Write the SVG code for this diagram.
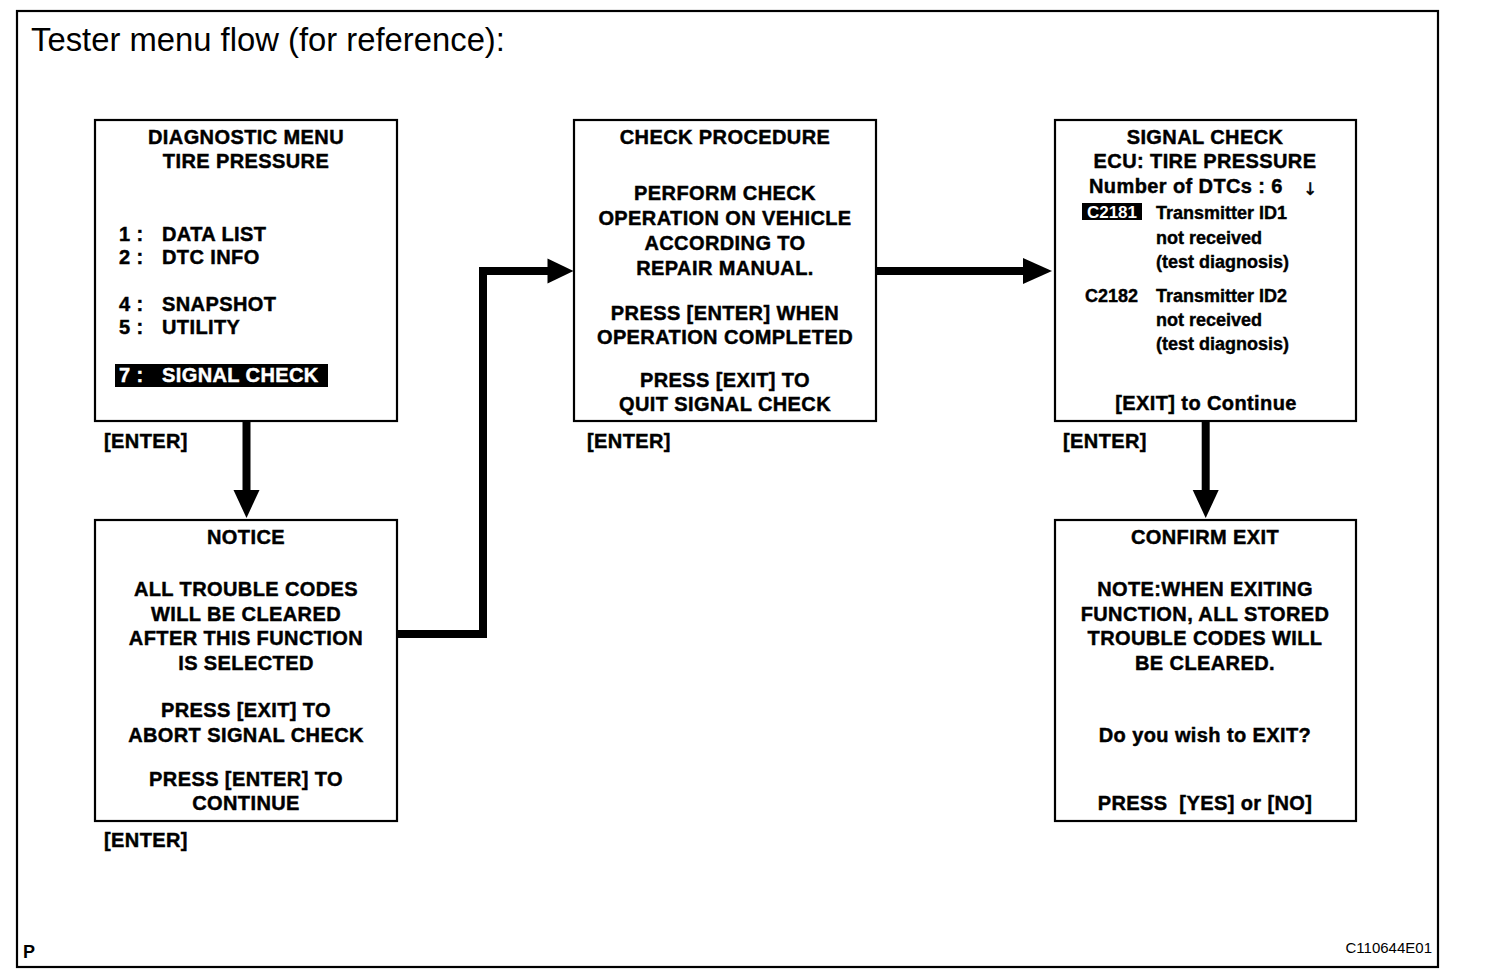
<svg xmlns="http://www.w3.org/2000/svg" width="1504" height="974" viewBox="0 0 1504 974">
<style>
.bx{fill:#fff;stroke:#000;stroke-width:2.2}
.t{font-family:"Liberation Sans",Arial,sans-serif;font-weight:bold;font-size:20px;letter-spacing:0.4px;fill:#000;stroke:#000;stroke-width:0.45}
.c{text-anchor:middle}
.s{font-family:"Liberation Sans",Arial,sans-serif;font-weight:bold;font-size:18px;fill:#000;stroke:#000;stroke-width:0.4}
.w{fill:#fff;stroke:#fff}
.ln{fill:none;stroke:#000;stroke-width:8;stroke-linejoin:miter}
</style>
<rect width="1504" height="974" fill="#fff"/>
<rect x="17" y="11" width="1421" height="956" fill="none" stroke="#000" stroke-width="2.2"/>
<text x="31" y="51" font-family="Liberation Sans,Arial,sans-serif" font-size="32.8">Tester menu flow (for reference):</text>
<text x="23" y="958" font-family="Liberation Sans,Arial,sans-serif" font-weight="bold" font-size="18">P</text>
<text x="1432" y="953" text-anchor="end" font-family="Liberation Sans,Arial,sans-serif" font-size="15">C110644E01</text>

<g id="connectors">
<line class="ln" x1="246.5" y1="421" x2="246.5" y2="492"/>
<polygon points="233.5,490 259.5,490 246.5,518"/>
<polyline class="ln" points="397,634 483,634 483,271 550,271"/>
<polygon points="547.5,258.5 573.5,271 547.5,283.5"/>
<line class="ln" x1="876" y1="271" x2="1026" y2="271"/>
<polygon points="1023,258 1052,271 1023,284"/>
<line class="ln" x1="1205.7" y1="421" x2="1205.7" y2="492"/>
<polygon points="1192.7,490 1218.7,490 1205.7,518"/>
</g>

<g id="diagnostic-menu">
<rect class="bx" x="95" y="120" width="302" height="301"/>
<text class="t c" x="246" y="143.5">DIAGNOSTIC MENU</text>
<text class="t c" x="246" y="168">TIRE PRESSURE</text>
<text class="t" x="119" y="241">1 :</text><text class="t" x="162" y="241">DATA LIST</text>
<text class="t" x="119" y="264">2 :</text><text class="t" x="162" y="264">DTC INFO</text>
<text class="t" x="119" y="311">4 :</text><text class="t" x="162" y="311">SNAPSHOT</text>
<text class="t" x="119" y="334">5 :</text><text class="t" x="162" y="334">UTILITY</text>
<rect x="115" y="364" width="213" height="23" fill="#000"/>
<text class="t w" x="119" y="382">7 :</text><text class="t w" x="162" y="382">SIGNAL CHECK</text>
<text class="t" x="104" y="448">[ENTER]</text>
</g>

<g id="notice">
<rect class="bx" x="95" y="520" width="302" height="301"/>
<text class="t c" x="246" y="544">NOTICE</text>
<text class="t c" x="246" y="596">ALL TROUBLE CODES</text>
<text class="t c" x="246" y="621">WILL BE CLEARED</text>
<text class="t c" x="246" y="645">AFTER THIS FUNCTION</text>
<text class="t c" x="246" y="670">IS SELECTED</text>
<text class="t c" x="246" y="717">PRESS [EXIT] TO</text>
<text class="t c" x="246" y="742">ABORT SIGNAL CHECK</text>
<text class="t c" x="246" y="786">PRESS [ENTER] TO</text>
<text class="t c" x="246" y="810">CONTINUE</text>
<text class="t" x="104" y="847">[ENTER]</text>
</g>

<g id="check-procedure">
<rect class="bx" x="574" y="120" width="302" height="301"/>
<text class="t c" x="725" y="144">CHECK PROCEDURE</text>
<text class="t c" x="725" y="200">PERFORM CHECK</text>
<text class="t c" x="725" y="225">OPERATION ON VEHICLE</text>
<text class="t c" x="725" y="250">ACCORDING TO</text>
<text class="t c" x="725" y="275">REPAIR MANUAL.</text>
<text class="t c" x="725" y="320">PRESS [ENTER] WHEN</text>
<text class="t c" x="725" y="344">OPERATION COMPLETED</text>
<text class="t c" x="725" y="387">PRESS [EXIT] TO</text>
<text class="t c" x="725" y="411">QUIT SIGNAL CHECK</text>
<text class="t" x="587" y="448">[ENTER]</text>
</g>

<g id="signal-check">
<rect class="bx" x="1055" y="120" width="301" height="301"/>
<text class="t c" x="1205" y="144">SIGNAL CHECK</text>
<text class="t c" x="1205" y="168">ECU: TIRE PRESSURE</text>
<text class="t" x="1089" y="193">Number of DTCs : 6</text>
<text x="1310" y="195" text-anchor="middle" font-family="DejaVu Sans,sans-serif" font-size="17" stroke="#000" stroke-width="0.5">↓</text>
<rect x="1082" y="203" width="60" height="17" fill="#000"/>
<text x="1112" y="218" text-anchor="middle" font-family="Liberation Sans,Arial,sans-serif" font-weight="bold" font-size="17" fill="#fff">C2181</text>
<text class="s" x="1156" y="219">Transmitter ID1</text>
<text class="s" x="1156" y="244">not received</text>
<text class="s" x="1156" y="268">(test diagnosis)</text>
<text class="s" x="1085" y="302">C2182</text>
<text class="s" x="1156" y="302">Transmitter ID2</text>
<text class="s" x="1156" y="326">not received</text>
<text class="s" x="1156" y="350">(test diagnosis)</text>
<text class="t c" x="1206" y="410">[EXIT] to Continue</text>
<text class="t" x="1063" y="448">[ENTER]</text>
</g>

<g id="confirm-exit">
<rect class="bx" x="1055" y="520" width="301" height="301"/>
<text class="t c" x="1205" y="544">CONFIRM EXIT</text>
<text class="t c" x="1205" y="596">NOTE:WHEN EXITING</text>
<text class="t c" x="1205" y="621">FUNCTION, ALL STORED</text>
<text class="t c" x="1205" y="645">TROUBLE CODES WILL</text>
<text class="t c" x="1205" y="670">BE CLEARED.</text>
<text class="t c" x="1205" y="742">Do you wish to EXIT?</text>
<text class="t c" x="1205" y="810" xml:space="preserve">PRESS  [YES] or [NO]</text>
</g>
</svg>
